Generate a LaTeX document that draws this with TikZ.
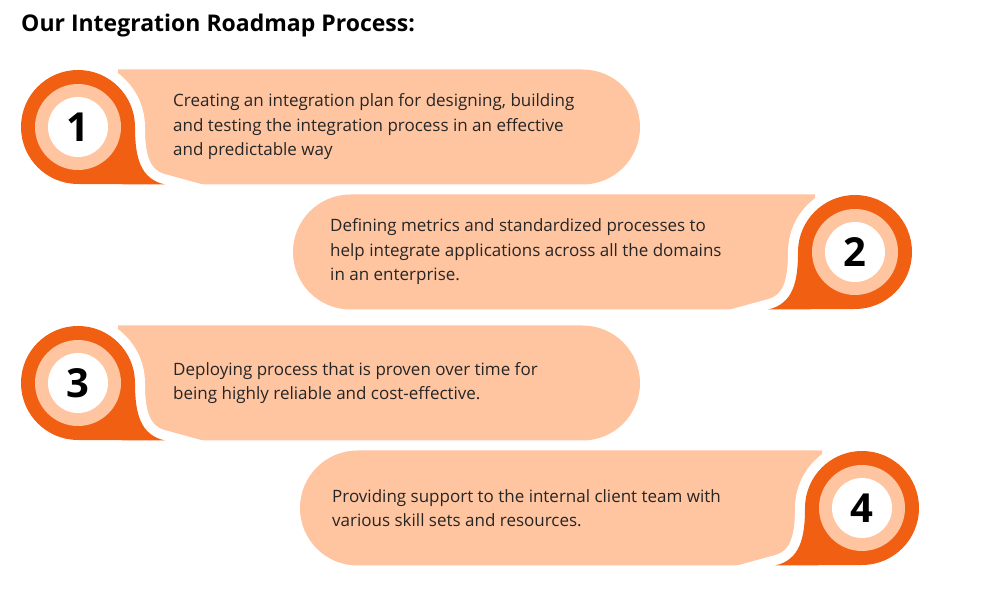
\documentclass[tikz,border=0pt]{standalone}
\usepackage{fontspec}
\setmainfont{Open Sans}
\definecolor{peach}{HTML}{FFC4A0}
\definecolor{rust}{HTML}{F05F12}
\tikzset{
  steptext/.style={anchor=west, align=left, font=\fontsize{17}{24.5}\selectfont, text=black!85, inner sep=0pt},
  stepnum/.style={circle, fill=white, minimum size=60pt, inner sep=0pt, font=\fontsize{40}{40}\selectfont\bfseries}
}
% one step: center x, center y, direction (1 = badge left, -1 = badge right)
\newcommand{\stepshape}[3]{%
  \begin{scope}[shift={(#1,#2)}, xscale=#3]
    \fill[peach] (40,57.5) -- (504.5,57.5) arc[start angle=90,end angle=-90,radius=57.5] -- (40,-57.5) -- cycle;
    \draw[white, line width=20pt] (57,0) arc[start angle=0,end angle=270,radius=57] -- (87,-57.5) .. controls (62,-52) and (57,-30) .. (57,0);
    \fill[rust] (57,0) arc[start angle=0,end angle=270,radius=57] -- (87,-57.5) .. controls (62,-52) and (57,-30) .. (57,0);
    \fill[peach] (0,0) circle[radius=43];
  \end{scope}}
\begin{document}
\begin{tikzpicture}[x=1pt, y=1pt]
  \useasboundingbox[fill=white] (0,0) rectangle (991,589);
  \node[anchor=west, inner sep=0pt, font=\fontsize{23}{23}\selectfont\bfseries] (title) at (21,563) {Our Integration Roadmap Process:};
  \stepshape{78}{462}{1}
  \stepshape{855}{337}{-1}
  \stepshape{78}{206}{1}
  \stepshape{862}{81}{-1}
  \node[stepnum] (n1) at (78,462) {1};
  \node[stepnum] (n2) at (855,337) {2};
  \node[stepnum] (n3) at (78,206) {3};
  \node[stepnum] (n4) at (862,81) {4};
  \node[steptext] (t1) at (173,462) {Creating an integration plan for designing, building\\and testing the integration process in an effective\\and predictable way};
  \node[steptext] (t2) at (330,337) {Defining metrics and standardized processes to\\help integrate applications across all the domains\\in an enterprise.};
  \node[steptext] (t3) at (173,206) {Deploying process that is proven over time for\\being highly reliable and cost-effective.};
  \node[steptext] (t4) at (332,81) {Providing support to the internal client team with\\various skill sets and resources.};
\end{tikzpicture}
\end{document}
